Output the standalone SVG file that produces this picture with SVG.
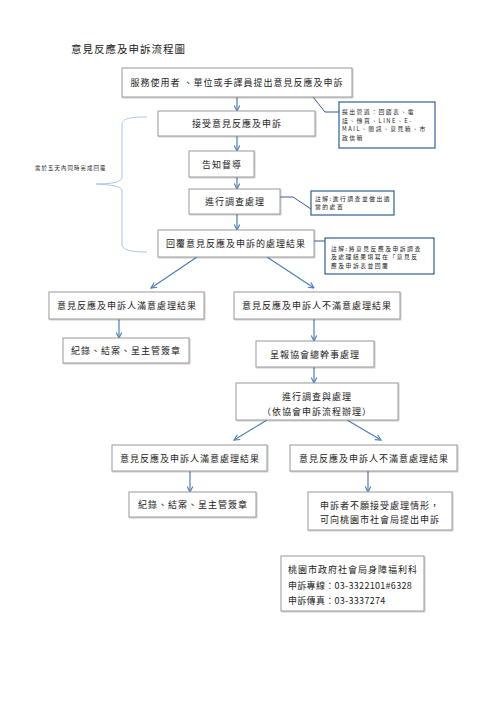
<svg xmlns="http://www.w3.org/2000/svg" width="500" height="707" viewBox="0 0 500 707">
<defs>
<marker id="ah" viewBox="0 0 10 10" refX="9" refY="5" markerWidth="7" markerHeight="7" orient="auto" markerUnits="userSpaceOnUse">
<polyline points="1,1 9,5 1,9" fill="none" stroke="#4a7ebb" stroke-width="1.6"/>
</marker>
<filter id="sh" x="-5%" y="-5%" width="110%" height="120%">
<feDropShadow dx="0.8" dy="0.8" stdDeviation="0.6" flood-color="#000" flood-opacity="0.25"/>
</filter>
</defs>
<style>
.box{fill:#fff;stroke:#9a9a9a;stroke-width:1;filter:url(#sh)}
.note{fill:#fff;stroke:#2f5f92;stroke-width:1.2}
.t{font-family:"Noto Sans CJK TC","Noto Sans CJK SC",sans-serif;font-size:9px;letter-spacing:1px;fill:#222;text-anchor:middle;dominant-baseline:central}
.n{font-family:"Noto Sans CJK TC","Noto Sans CJK SC",sans-serif;font-size:5.8px;letter-spacing:1.5px;fill:#222}
.c{stroke:#4a7ebb;stroke-width:1.2;fill:none}
.cl{stroke:#2f5f92;stroke-width:1;fill:none}
</style>
<rect width="500" height="707" fill="#fff"/>
<text x="71" y="48" style="font-family:'Noto Sans CJK TC','Noto Sans CJK SC',sans-serif;font-size:10.5px;letter-spacing:1px;fill:#222;dominant-baseline:central">意見反應及申訴流程圖</text>

<g id="connectors">
<line class="c" x1="237" y1="97" x2="237" y2="111" marker-end="url(#ah)"/>
<line class="c" x1="237" y1="136" x2="237" y2="151" marker-end="url(#ah)"/>
<line class="c" x1="237" y1="177" x2="237" y2="189" marker-end="url(#ah)"/>
<line class="c" x1="237" y1="214" x2="237" y2="230" marker-end="url(#ah)"/>
<line class="c" x1="197" y1="257" x2="151" y2="288" marker-end="url(#ah)"/>
<line class="c" x1="267" y1="257" x2="314" y2="288" marker-end="url(#ah)"/>
<line class="c" x1="119" y1="319" x2="119" y2="338" marker-end="url(#ah)"/>
<line class="c" x1="314" y1="319" x2="314" y2="341" marker-end="url(#ah)"/>
<line class="c" x1="314" y1="367" x2="314" y2="383" marker-end="url(#ah)"/>
<line class="c" x1="267" y1="420" x2="234" y2="440" marker-end="url(#ah)"/>
<line class="c" x1="347" y1="420" x2="381" y2="440" marker-end="url(#ah)"/>
<line class="c" x1="190" y1="471" x2="190" y2="492" marker-end="url(#ah)"/>
<line class="c" x1="368" y1="471" x2="368" y2="492" marker-end="url(#ah)"/>
<polyline class="cl" points="313,97 325,112 339,112"/>
<polyline class="cl" points="280,197 293,197 311,209"/>
<polyline class="cl" points="314,241 325,241"/>
<path d="M147,117 C131,117 122,118 122,125 L122,177 C122,182 112,184 96,184 C112,185 122,186 122,191 L122,244 C122,250 131,252 147,252" fill="none" stroke="#a9c7e8" stroke-width="1"/>
</g>

<g id="brace-label"><text class="n" x="35" y="168" style="font-size:5.4px;letter-spacing:1.1px;dominant-baseline:central">需於五天內同時完成回覆</text></g>

<g id="n1"><rect class="box" x="122" y="68" width="230" height="29"/><text class="t" x="237" y="82.5">服務使用者 、單位或手譯員提出意見反應及申訴</text></g>
<g id="note1"><rect class="note" x="339" y="102" width="96" height="46"/>
<text class="n" x="342" y="114">提出管道：回饋表、電</text>
<text class="n" x="342" y="122.6">話、傳真、LINE、E-</text>
<text class="n" x="342" y="131.2">MAIL、簡訊、意見箱、市</text>
<text class="n" x="342" y="139.8">政信箱</text></g>
<g id="n2"><rect class="box" x="158" y="111" width="157" height="25"/><text class="t" x="237" y="123.5">接受意見反應及申訴</text></g>
<g id="n3"><rect class="box" x="189" y="151" width="65" height="26"/><text class="t" x="222" y="164">告知督導</text></g>
<g id="n4"><rect class="box" x="189" y="189" width="91" height="25"/><text class="t" x="235" y="201.5">進行調查處理</text></g>
<g id="note2"><rect class="note" x="311" y="191" width="83" height="24"/>
<text class="n" x="315" y="200.5">註解:進行調查並做出適</text>
<text class="n" x="315" y="209.1">當的處置</text></g>
<g id="n5"><rect class="box" x="158" y="230" width="156" height="27"/><text class="t" x="236" y="243.5">回覆意見反應及申訴的處理結果</text></g>
<g id="note3"><rect class="note" x="325" y="238" width="109" height="36"/>
<text class="n" x="331" y="250.5">註解:將意見反應及申訴調查</text>
<text class="n" x="331" y="259.1">及處理結果填寫在「意見反</text>
<text class="n" x="331" y="267.7">應及申訴表並回覆</text></g>

<g id="n6"><rect class="box" x="49" y="292" width="155" height="27"/><text class="t" x="127" y="305.5">意見反應及申訴人滿意處理結果</text></g>
<g id="n7"><rect class="box" x="234" y="292" width="166" height="27"/><text class="t" x="317" y="305.5">意見反應及申訴人不滿意處理結果</text></g>
<g id="n8"><rect class="box" x="63" y="338" width="126" height="25"/><text class="t" x="126" y="350.5">紀錄、結案、呈主管簽章</text></g>
<g id="n9"><rect class="box" x="256" y="341" width="118" height="26"/><text class="t" x="315" y="354">呈報協會總幹事處理</text></g>
<g id="n10"><rect class="box" x="236" y="383" width="162" height="37"/><text class="t" x="317" y="396">進行調查與處理</text><text class="t" x="317" y="411">（依協會申訴流程辦理）</text></g>
<g id="n11"><rect class="box" x="112" y="445" width="155" height="26"/><text class="t" x="190" y="458">意見反應及申訴人滿意處理結果</text></g>
<g id="n12"><rect class="box" x="290" y="445" width="167" height="26"/><text class="t" x="374" y="458">意見反應及申訴人不滿意處理結果</text></g>
<g id="n13"><rect class="box" x="129" y="492" width="127" height="25"/><text class="t" x="193" y="504.5">紀錄、結案、呈主管簽章</text></g>
<g id="n14"><rect class="box" x="308" y="492" width="144" height="38"/><text class="t" x="380" y="505">申訴者不願接受處理情形，</text><text class="t" x="380" y="519">可向桃園市社會局提出申訴</text></g>
<g id="contact"><rect class="box" x="281" y="556" width="143" height="55"/>
<text class="t" x="288" y="569" style="text-anchor:start">桃園市政府社會局身障福利科</text>
<text class="t" x="288" y="585" style="text-anchor:start;letter-spacing:0.3px">申訴專線：03-3322101#6328</text>
<text class="t" x="288" y="600" style="text-anchor:start;letter-spacing:0.3px">申訴傳真：03-3337274</text></g>
</svg>
